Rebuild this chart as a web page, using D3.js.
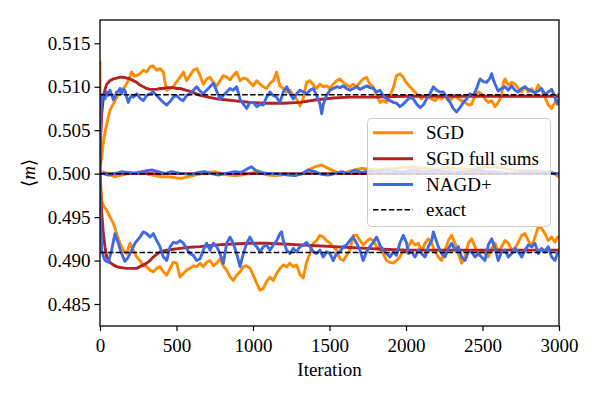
<!DOCTYPE html>
<html><head><meta charset="utf-8">
<script src="https://cdn.jsdelivr.net/npm/d3@7"></script>
<style>
body{margin:0;background:#fff;}
svg{display:block;font-family:"Liberation Serif","DejaVu Serif",serif;}
</style></head>
<body>
<svg id="c" width="598" height="399"></svg>
<script>
// ---------------- data ----------------
const xTicks = [0, 500, 1000, 1500, 2000, 2500, 3000];
const yTicks = [0.485, 0.490, 0.495, 0.500, 0.505, 0.510, 0.515];
const legendLabels = ["SGD", "SGD full sums", "NAGD+", "exact"];
const exactValues = [0.50908, 0.50000, 0.49092];

// SGD (orange)
const sgdUpper = [[0,0.5130],[5,0.5012],[11,0.5019],[25,0.5040],[44,0.5057],[65,0.5073],[80,0.5078],[98,0.5084],[115,0.5090],[131,0.5092],[147,0.5097],[163,0.5100],[185,0.5107],[207,0.5117],[225,0.5112],[240,0.5113],[261,0.5115],[283,0.5119],[305,0.5117],[327,0.5123],[349,0.5124],[370,0.5119],[392,0.5121],[414,0.5117],[425,0.5105],[436,0.5096],[458,0.5098],[479,0.5100],[501,0.5106],[523,0.5111],[545,0.5117],[566,0.5107],[588,0.5113],[610,0.5119],[632,0.5121],[654,0.5113],[675,0.5103],[697,0.5109],[719,0.5111],[741,0.5105],[763,0.5101],[784,0.5107],[806,0.5113],[828,0.5111],[850,0.5108],[871,0.5113],[893,0.5117],[915,0.5107],[937,0.5110],[959,0.5109],[980,0.5105],[1002,0.5101],[1024,0.5107],[1046,0.5103],[1067,0.5100],[1089,0.5098],[1111,0.5104],[1133,0.5107],[1154,0.5117],[1176,0.5101],[1198,0.5098],[1220,0.5094],[1242,0.5096],[1263,0.5090],[1285,0.5086],[1307,0.5078],[1328,0.5086],[1350,0.5105],[1372,0.5107],[1394,0.5102],[1416,0.5098],[1437,0.5103],[1459,0.5100],[1481,0.5101],[1503,0.5098],[1524,0.5103],[1546,0.5107],[1568,0.5109],[1590,0.5105],[1612,0.5102],[1633,0.5100],[1655,0.5103],[1677,0.5100],[1699,0.5105],[1720,0.5109],[1742,0.5111],[1764,0.5103],[1786,0.5100],[1808,0.5090],[1830,0.5082],[1851,0.5084],[1873,0.5082],[1895,0.5090],[1916,0.5098],[1938,0.5113],[1960,0.5115],[1982,0.5111],[1993,0.5107],[2015,0.5102],[2037,0.5098],[2059,0.5094],[2081,0.5090],[2102,0.5086],[2124,0.5090],[2146,0.5088],[2168,0.5086],[2190,0.5084],[2211,0.5088],[2233,0.5086],[2255,0.5090],[2277,0.5084],[2298,0.5086],[2320,0.5090],[2342,0.5086],[2364,0.5084],[2386,0.5082],[2407,0.5079],[2429,0.5080],[2451,0.5090],[2473,0.5094],[2494,0.5092],[2516,0.5086],[2538,0.5082],[2560,0.5084],[2582,0.5077],[2603,0.5082],[2625,0.5090],[2636,0.5105],[2647,0.5109],[2669,0.5102],[2690,0.5105],[2712,0.5103],[2734,0.5098],[2756,0.5094],[2777,0.5100],[2799,0.5094],[2821,0.5098],[2843,0.5092],[2864,0.5102],[2886,0.5096],[2908,0.5088],[2930,0.5079],[2952,0.5075],[2973,0.5082],[2988,0.5090],[3000,0.5092]];
const sgdMiddle = [[0,0.5000],[22,0.50020],[54,0.49992],[98,0.49965],[141,0.49984],[185,0.50000],[229,0.50015],[272,0.50023],[316,0.49992],[359,0.49977],[403,0.49965],[446,0.49965],[490,0.49954],[533,0.49946],[577,0.49965],[621,0.49984],[664,0.50000],[708,0.50015],[751,0.50023],[795,0.50000],[838,0.49984],[882,0.49977],[925,0.49984],[969,0.50000],[1013,0.50015],[1056,0.50000],[1100,0.49984],[1143,0.49977],[1187,0.49984],[1230,0.50000],[1274,0.49984],[1317,0.49992],[1361,0.50042],[1405,0.50080],[1448,0.50099],[1492,0.50061],[1535,0.50023],[1579,0.50000],[1622,0.50023],[1666,0.50042],[1710,0.50061],[1764,0.50050],[1819,0.50042],[1873,0.50055],[1927,0.50061],[1982,0.50070],[2036,0.50080],[2090,0.50065],[2145,0.50061],[2200,0.50050],[2254,0.50069],[2309,0.50060],[2363,0.50054],[2418,0.50045],[2472,0.50061],[2527,0.50072],[2581,0.50080],[2635,0.50060],[2689,0.50042],[2744,0.50035],[2798,0.50030],[2852,0.50040],[2907,0.50023],[2960,0.50010],[3000,0.49960]];
const sgdLower = [[0,0.5000],[6,0.4985],[11,0.4969],[25,0.4962],[44,0.4958],[65,0.4950],[87,0.4943],[109,0.4931],[130,0.4920],[152,0.4912],[174,0.4908],[196,0.4920],[218,0.4912],[240,0.4904],[261,0.4900],[283,0.4894],[305,0.4893],[327,0.4889],[349,0.4887],[370,0.4891],[392,0.4893],[414,0.4887],[436,0.4883],[458,0.4891],[479,0.4898],[501,0.4897],[523,0.4881],[545,0.4885],[566,0.4889],[588,0.4891],[610,0.4894],[632,0.4893],[654,0.4897],[675,0.4893],[697,0.4898],[719,0.4900],[741,0.4894],[763,0.4897],[784,0.4902],[806,0.4894],[828,0.4889],[850,0.4881],[871,0.4877],[893,0.4883],[915,0.4887],[937,0.4893],[959,0.4894],[980,0.4891],[1002,0.4883],[1024,0.4874],[1045,0.4866],[1067,0.4868],[1089,0.4876],[1111,0.4881],[1132,0.4877],[1154,0.4885],[1176,0.4891],[1198,0.4895],[1220,0.4893],[1241,0.4897],[1263,0.4893],[1285,0.4895],[1307,0.4884],[1328,0.4880],[1350,0.4898],[1372,0.4908],[1383,0.4916],[1394,0.4920],[1416,0.4923],[1437,0.4929],[1459,0.4927],[1481,0.4923],[1503,0.4920],[1524,0.4916],[1546,0.4912],[1568,0.4902],[1590,0.4900],[1612,0.4906],[1633,0.4912],[1655,0.4929],[1677,0.4929],[1699,0.4923],[1720,0.4918],[1742,0.4922],[1764,0.4925],[1786,0.4923],[1808,0.4916],[1829,0.4914],[1851,0.4908],[1873,0.4900],[1895,0.4898],[1916,0.4897],[1938,0.4900],[1960,0.4904],[1982,0.4912],[2004,0.4910],[2015,0.4916],[2037,0.4923],[2059,0.4918],[2081,0.4920],[2102,0.4910],[2124,0.4920],[2146,0.4925],[2168,0.4920],[2190,0.4910],[2211,0.4904],[2233,0.4900],[2255,0.4912],[2277,0.4923],[2298,0.4929],[2320,0.4920],[2342,0.4908],[2364,0.4897],[2386,0.4904],[2407,0.4920],[2429,0.4925],[2451,0.4916],[2473,0.4906],[2494,0.4912],[2516,0.4908],[2538,0.4904],[2560,0.4914],[2582,0.4920],[2603,0.4910],[2625,0.4916],[2647,0.4923],[2669,0.4920],[2691,0.4912],[2712,0.4914],[2734,0.4921],[2756,0.4929],[2778,0.4931],[2799,0.4923],[2821,0.4916],[2843,0.4927],[2865,0.4939],[2886,0.4937],[2908,0.4931],[2930,0.4923],[2952,0.4927],[2974,0.4921],[2990,0.4927],[3000,0.4925]];

// SGD full sums (red)
const fullUpper = [[0,0.5000],[3,0.5030],[5,0.5045],[11,0.5068],[22,0.5088],[33,0.5097],[44,0.5103],[65,0.5107],[87,0.5109],[109,0.5110],[131,0.5111],[152,0.5111],[174,0.5110],[196,0.5109],[218,0.5107],[240,0.5105],[261,0.5102],[283,0.5100],[305,0.5098],[327,0.5097],[348,0.5097],[370,0.5097],[392,0.5098],[414,0.5098],[436,0.5099],[458,0.5099],[479,0.5099],[501,0.5098],[523,0.5098],[544,0.5097],[599,0.5094],[654,0.5090],[708,0.5088],[763,0.5086],[817,0.5085],[871,0.5084],[926,0.5083],[980,0.5082],[1089,0.5081],[1198,0.5081],[1307,0.5082],[1416,0.5085],[1525,0.5087],[1634,0.5088],[1800,0.5088],[2000,0.5089],[2500,0.5089],[3000,0.5089]];
const fullMiddle = [[0,0.5000],[500,0.5000],[1000,0.5000],[1500,0.5000],[2000,0.5000],[2500,0.5000],[3000,0.5000]];
const fullLower = [[0,0.5000],[5,0.4975],[11,0.4955],[22,0.4931],[33,0.4915],[44,0.4904],[65,0.4898],[87,0.4895],[109,0.4893],[131,0.4892],[174,0.4891],[218,0.4891],[240,0.4891],[261,0.4893],[283,0.4895],[305,0.4897],[327,0.4900],[348,0.4904],[370,0.4907],[392,0.4910],[436,0.4912],[479,0.4913],[523,0.4914],[566,0.4915],[654,0.4916],[763,0.4918],[871,0.4919],[980,0.4920],[1089,0.4920],[1198,0.4919],[1307,0.4918],[1416,0.4917],[1525,0.4916],[1634,0.4915],[1743,0.4914],[1851,0.4913],[2000,0.4912],[2300,0.4912],[2600,0.4912],[3000,0.4912]];

// NAGD+ (blue)
const nagdUpper = [[0,0.5000],[4,0.5060],[11,0.5088],[22,0.5092],[33,0.5086],[44,0.5094],[54,0.5090],[65,0.5096],[76,0.5091],[87,0.5085],[98,0.5088],[109,0.5094],[120,0.5095],[131,0.5098],[142,0.5092],[152,0.5097],[163,0.5096],[174,0.5088],[185,0.5082],[196,0.5087],[207,0.5090],[218,0.5088],[240,0.5092],[261,0.5087],[283,0.5084],[305,0.5090],[327,0.5092],[348,0.5094],[370,0.5090],[392,0.5086],[414,0.5082],[436,0.5079],[458,0.5083],[479,0.5088],[501,0.5090],[523,0.5086],[544,0.5084],[566,0.5090],[588,0.5092],[610,0.5096],[632,0.5100],[654,0.5095],[675,0.5092],[697,0.5096],[719,0.5100],[741,0.5104],[763,0.5095],[784,0.5086],[806,0.5090],[828,0.5094],[850,0.5098],[871,0.5096],[893,0.5100],[915,0.5086],[937,0.5080],[959,0.5075],[980,0.5082],[1002,0.5082],[1024,0.5077],[1046,0.5080],[1067,0.5079],[1089,0.5088],[1111,0.5094],[1133,0.5090],[1154,0.5088],[1176,0.5082],[1198,0.5094],[1220,0.5100],[1242,0.5092],[1263,0.5086],[1285,0.5092],[1307,0.5096],[1329,0.5094],[1351,0.5092],[1372,0.5096],[1394,0.5098],[1416,0.5090],[1438,0.5080],[1449,0.5069],[1460,0.5080],[1481,0.5090],[1503,0.5096],[1525,0.5098],[1547,0.5100],[1568,0.5099],[1590,0.5101],[1612,0.5098],[1634,0.5096],[1656,0.5098],[1678,0.5100],[1700,0.5097],[1721,0.5099],[1743,0.5101],[1764,0.5099],[1786,0.5098],[1808,0.5094],[1830,0.5096],[1851,0.5090],[1873,0.5086],[1895,0.5084],[1917,0.5082],[1939,0.5081],[1961,0.5077],[1982,0.5080],[2004,0.5084],[2026,0.5088],[2048,0.5086],[2070,0.5080],[2092,0.5076],[2113,0.5079],[2135,0.5086],[2157,0.5092],[2179,0.5100],[2200,0.5096],[2222,0.5094],[2244,0.5094],[2266,0.5088],[2288,0.5082],[2309,0.5075],[2331,0.5071],[2353,0.5076],[2375,0.5082],[2396,0.5086],[2418,0.5092],[2440,0.5090],[2462,0.5098],[2473,0.5104],[2484,0.5109],[2505,0.5106],[2527,0.5105],[2549,0.5110],[2560,0.5115],[2571,0.5108],[2582,0.5103],[2603,0.5095],[2625,0.5098],[2647,0.5100],[2669,0.5096],[2690,0.5101],[2712,0.5096],[2734,0.5094],[2756,0.5098],[2777,0.5100],[2799,0.5097],[2821,0.5095],[2843,0.5093],[2864,0.5095],[2886,0.5098],[2908,0.5091],[2930,0.5094],[2952,0.5097],[2973,0.5088],[2990,0.5080],[3000,0.5086]];
const nagdMiddle = [[0,0.5000],[22,0.50000],[54,0.49984],[98,0.50000],[141,0.50023],[185,0.50015],[229,0.50000],[294,0.50030],[338,0.50042],[381,0.50023],[425,0.50000],[468,0.50023],[534,0.50000],[599,0.49992],[642,0.50015],[686,0.50023],[730,0.50000],[773,0.49984],[817,0.50000],[882,0.50023],[926,0.50015],[969,0.50061],[991,0.50080],[1013,0.50042],[1056,0.50015],[1100,0.50000],[1165,0.50000],[1230,0.49984],[1274,0.49977],[1317,0.50000],[1361,0.50042],[1405,0.50023],[1448,0.49992],[1492,0.49984],[1535,0.50000],[1579,0.50023],[1622,0.50000],[1666,0.50042],[1710,0.50015],[1764,0.50030],[1819,0.50023],[1873,0.50040],[1927,0.50030],[1982,0.50020],[2036,0.50042],[2090,0.50030],[2145,0.50023],[2200,0.50038],[2254,0.50030],[2309,0.50020],[2363,0.50015],[2418,0.50030],[2472,0.50038],[2527,0.50025],[2581,0.50023],[2635,0.50010],[2689,0.50000],[2744,0.50015],[2798,0.50023],[2852,0.50010],[2907,0.50015],[2960,0.50005],[3000,0.50000]];
const nagdLower = [[0,0.5000],[4,0.4950],[11,0.4912],[22,0.4905],[33,0.4900],[54,0.4898],[76,0.4912],[98,0.4931],[109,0.4925],[120,0.4920],[131,0.4913],[142,0.4908],[163,0.4899],[185,0.4904],[207,0.4912],[229,0.4920],[261,0.4927],[283,0.4933],[305,0.4931],[327,0.4927],[349,0.4931],[370,0.4923],[392,0.4916],[414,0.4904],[436,0.4900],[458,0.4916],[479,0.4921],[501,0.4920],[523,0.4923],[545,0.4920],[566,0.4914],[588,0.4908],[610,0.4906],[632,0.4900],[654,0.4902],[675,0.4912],[697,0.4920],[719,0.4912],[741,0.4920],[763,0.4916],[784,0.4908],[806,0.4897],[828,0.4920],[850,0.4927],[871,0.4920],[893,0.4908],[915,0.4893],[937,0.4908],[959,0.4920],[980,0.4927],[1002,0.4920],[1024,0.4916],[1046,0.4910],[1068,0.4916],[1089,0.4918],[1111,0.4912],[1133,0.4918],[1155,0.4923],[1176,0.4931],[1187,0.4933],[1198,0.4923],[1220,0.4912],[1242,0.4908],[1264,0.4914],[1285,0.4910],[1307,0.4916],[1328,0.4918],[1350,0.4921],[1372,0.4916],[1394,0.4910],[1416,0.4908],[1437,0.4912],[1459,0.4904],[1481,0.4910],[1503,0.4908],[1524,0.4900],[1546,0.4908],[1568,0.4910],[1590,0.4916],[1612,0.4918],[1633,0.4923],[1655,0.4927],[1677,0.4920],[1699,0.4912],[1720,0.4900],[1742,0.4910],[1764,0.4916],[1786,0.4921],[1808,0.4927],[1829,0.4918],[1851,0.4912],[1873,0.4908],[1895,0.4904],[1916,0.4910],[1938,0.4906],[1960,0.4920],[1982,0.4929],[2004,0.4920],[2015,0.4908],[2037,0.4910],[2059,0.4904],[2081,0.4912],[2102,0.4908],[2124,0.4904],[2146,0.4916],[2168,0.4923],[2179,0.4933],[2190,0.4927],[2211,0.4916],[2233,0.4908],[2255,0.4904],[2277,0.4914],[2298,0.4920],[2320,0.4912],[2342,0.4916],[2364,0.4904],[2386,0.4900],[2407,0.4910],[2429,0.4910],[2451,0.4904],[2473,0.4908],[2494,0.4904],[2516,0.4900],[2538,0.4918],[2560,0.4925],[2582,0.4914],[2603,0.4900],[2625,0.4910],[2647,0.4912],[2669,0.4904],[2691,0.4908],[2712,0.4914],[2734,0.4910],[2756,0.4904],[2778,0.4912],[2799,0.4918],[2821,0.4916],[2843,0.4920],[2865,0.4908],[2886,0.4914],[2908,0.4910],[2930,0.4916],[2952,0.4904],[2974,0.4900],[2990,0.4908],[3000,0.4912]];

// ---------------- drawing ----------------
const colors = {sgd:"#ff8c00", full:"#b22222", nagd:"#4169e1", exact:"#000000"};
const FONT = 19;
const svg = d3.select("#c");
const L = 100, R = 559, T = 20, B = 326;

const x = d3.scaleLinear().domain([0, 3000]).range([L, R]);
const y = d3.scaleLinear().domain([0.48247, 0.51768]).range([B, T]);

svg.append("defs").append("clipPath").attr("id","clip")
  .append("rect").attr("x",L).attr("y",T).attr("width",R-L).attr("height",B-T);

const line = d3.line().x(d => x(d[0])).y(d => y(d[1]));
const plot = svg.append("g").attr("clip-path","url(#clip)");

const groups = [
  {series:[sgdUpper, sgdMiddle, sgdLower], color:colors.sgd},
  {series:[fullUpper, fullMiddle, fullLower], color:colors.full},
  {series:[nagdUpper, nagdMiddle, nagdLower], color:colors.nagd}
];
groups.forEach(g => {
  g.series.forEach(s => {
    plot.append("path").datum(s).attr("d", line)
      .attr("fill","none").attr("stroke", g.color)
      .attr("stroke-width", 2.9).attr("stroke-linejoin","round").attr("stroke-linecap","butt");
  });
});
exactValues.forEach(v => {
  plot.append("path").datum([[0, v], [3000, v]]).attr("d", line)
    .attr("fill","none").attr("stroke", colors.exact)
    .attr("stroke-width", 1.5).attr("stroke-dasharray","5.5,2.4");
});

// axes
const xAxis = svg.append("g").attr("transform",`translate(0,${B})`)
  .call(d3.axisBottom(x).tickValues(xTicks).tickFormat(d3.format("d")).tickSize(5).tickPadding(8));
const yAxis = svg.append("g").attr("transform",`translate(${L},0)`)
  .call(d3.axisLeft(y).tickValues(yTicks).tickFormat(d3.format(".3f")).tickSize(5.5).tickPadding(4));
[xAxis, yAxis].forEach(a => {
  a.select(".domain").remove();
  a.selectAll(".tick line").attr("stroke","#000").attr("stroke-width",1.2);
  a.selectAll(".tick text").attr("fill","#000")
    .style("font-family",'"Liberation Serif","DejaVu Serif",serif').style("font-size",FONT+"px");
});

// frame
svg.append("rect").attr("x",L).attr("y",T).attr("width",R-L).attr("height",B-T)
  .attr("fill","none").attr("stroke","#000").attr("stroke-width",1.3);

// axis labels
svg.append("text").attr("x",(L+R)/2).attr("y",376).attr("text-anchor","middle")
  .style("font-size",FONT+"px").text("Iteration");
const yl = svg.append("text").attr("transform","translate(35,173) rotate(-90)")
  .attr("text-anchor","middle").style("font-size",FONT+"px");
yl.append("tspan").text("\u27E8");
yl.append("tspan").style("font-style","italic").text("m");
yl.append("tspan").text("\u27E9");

// legend
const lg = svg.append("g");
lg.append("rect").attr("x",367.5).attr("y",118.5).attr("width",183).attr("height",108)
  .attr("rx",4).attr("fill","#fff").attr("fill-opacity",0.8)
  .attr("stroke","#cccccc").attr("stroke-width",1);
const legendColors = [colors.sgd, colors.full, colors.nagd, colors.exact];
const legendY = [132.7, 158.7, 184.5, 209.8];
legendLabels.forEach((lab, i) => {
  const isExact = i === 3;
  lg.append("line").attr("x1",373).attr("x2",413).attr("y1",legendY[i]).attr("y2",legendY[i])
    .attr("stroke",legendColors[i]).attr("stroke-width", isExact ? 1.5 : 2.9)
    .attr("stroke-dasharray", isExact ? "5.5,2.4" : null);
  lg.append("text").attr("x",426).attr("y",legendY[i]).attr("dy","0.33em")
    .style("font-size",FONT+"px").text(lab);
});
</script>
</body></html>
